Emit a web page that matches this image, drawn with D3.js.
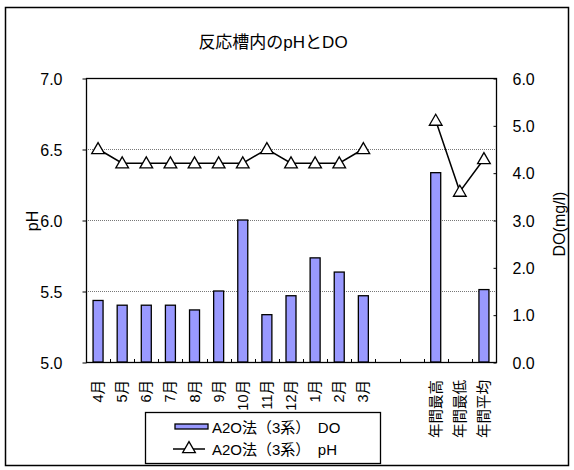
<!DOCTYPE html>
<html>
<head>
<meta charset="utf-8">
<script src="https://cdn.jsdelivr.net/npm/d3@7"></script>
<style>
  html, body { margin: 0; padding: 0; background: #fff; }
  svg { display: block; }
  text { font-family: "Liberation Sans", Arial, "Noto Sans CJK JP", sans-serif; fill: #000; }
</style>
</head>
<body>
<svg id="chart" width="574" height="470"></svg>
<script>
// Monthly and annual summary values for reactor tank (A2O, line 3)
const categories = ["4月", "5月", "6月", "7月", "8月", "9月", "10月", "11月", "12月", "1月", "2月", "3月",
                    "", "", "年間最高", "年間最低", "年間平均"];
const doValues = [1.3, 1.2, 1.2, 1.2, 1.1, 1.5, 3.0, 1.0, 1.4, 2.2, 1.9, 1.4, null, null, 4.0, 0, 1.53];
const phValues = [6.5, 6.4, 6.4, 6.4, 6.4, 6.4, 6.4, 6.5, 6.4, 6.4, 6.4, 6.5, null, null, 6.7, 6.2, 6.43];
const phTicks = [5.0, 5.5, 6.0, 6.5, 7.0];
const doTicks = [0, 1, 2, 3, 4, 5, 6];
const titleText = "反応槽内のpHとDO";
const phAxisTitle = "pH";
const doAxisTitle = "DO(mg/l)";
const legendLabels = ["A2O法（3系）　DO", "A2O法（3系）　pH"];

const svg = d3.select("#chart");
const plot = { left: 86, right: 496, top: 78, bottom: 362 };

const x = d3.scaleBand().domain(d3.range(categories.length)).range([plot.left, plot.right]).padding(0);
const yPH = d3.scaleLinear().domain([5, 7]).range([plot.bottom, plot.top]);
const yDO = d3.scaleLinear().domain([0, 6]).range([plot.bottom, plot.top]);

// outer frame
svg.append("rect").attr("x", 5.5).attr("y", 7.5).attr("width", 563).attr("height", 458)
  .attr("fill", "#fff").attr("stroke", "#000").attr("stroke-width", 1.5);

// title
svg.append("text").attr("x", 273).attr("y", 48).attr("text-anchor", "middle")
  .style("font-size", "17px").text(titleText);

// grid lines
svg.append("g").selectAll("line").data(phTicks.filter(t => t > 5 && t < 7)).join("line")
  .attr("x1", plot.left).attr("x2", plot.right)
  .attr("y1", d => Math.round(yPH(d)) + 0.5).attr("y2", d => Math.round(yPH(d)) + 0.5)
  .attr("stroke", "#777").attr("stroke-width", 1).attr("stroke-dasharray", "1,1");

// plot area frame
svg.append("rect").attr("x", plot.left + 0.5).attr("y", plot.top + 0.5)
  .attr("width", plot.right - plot.left).attr("height", plot.bottom - plot.top)
  .attr("fill", "none").attr("stroke", "#000").attr("stroke-width", 1.3);

// left pH axis
const leftAxis = d3.axisLeft(yPH).tickValues(phTicks).tickFormat(d3.format(".1f")).tickSize(4).tickPadding(20);
const gL = svg.append("g").attr("transform", `translate(${plot.left + 0.5},0.5)`).call(leftAxis);
gL.select(".domain").remove();
gL.selectAll(".tick line").attr("stroke", "#000");
gL.selectAll(".tick text").style("font-size", "16px").attr("x", -24).attr("dy", "0.35em");

// right DO axis (ticks point inward)
const rightAxis = d3.axisRight(yDO).tickValues(doTicks).tickFormat(d3.format(".1f")).tickSize(-3);
const gR = svg.append("g").attr("transform", `translate(${plot.right + 0.5},0.5)`).call(rightAxis);
gR.select(".domain").remove();
gR.selectAll(".tick line").attr("stroke", "#000");
gR.selectAll(".tick text").style("font-size", "16px").attr("x", 16).attr("dy", "0.35em");

// category boundary ticks on the bottom axis (pointing up)
svg.append("g").selectAll("line").data(d3.range(1, categories.length)).join("line")
  .attr("x1", i => Math.round(x(i)) + 0.5).attr("x2", i => Math.round(x(i)) + 0.5)
  .attr("y1", plot.bottom).attr("y2", plot.bottom - 3)
  .attr("stroke", "#000").attr("stroke-width", 1);

// category labels (rotated)
svg.append("g").selectAll("text").data(categories).join("text")
  .attr("transform", (d, i) => `translate(${x(i) + x.bandwidth() / 2 + 5},380) rotate(-90)`)
  .attr("text-anchor", "end")
  .style("font-size", "14.5px")
  .text(d => d);

// axis titles
svg.append("text").attr("transform", "translate(38,221) rotate(-90)")
  .attr("text-anchor", "middle").style("font-size", "16px").text(phAxisTitle);
svg.append("text").attr("transform", "translate(565,224) rotate(-90)")
  .attr("text-anchor", "middle").style("font-size", "16px").text(doAxisTitle);

// DO bars
const barW = 10;
svg.append("g").selectAll("rect")
  .data(doValues.map((v, i) => ({ v, i })).filter(d => d.v != null && d.v > 0)).join("rect")
  .attr("x", d => x(d.i) + x.bandwidth() / 2 - barW / 2)
  .attr("y", d => yDO(d.v))
  .attr("width", barW)
  .attr("height", d => yDO(0) - yDO(d.v))
  .attr("fill", "#9999ff").attr("stroke", "#000").attr("stroke-width", 1.3);

// pH line with gaps
const phPts = phValues.map((v, i) => ({ v, i }));
const line = d3.line().defined(d => d.v != null)
  .x(d => x(d.i) + x.bandwidth() / 2).y(d => yPH(d.v));
svg.append("path").datum(phPts).attr("d", line)
  .attr("fill", "none").attr("stroke", "#000").attr("stroke-width", 1.5);

const tri = d3.symbol().type(d3.symbolTriangle).size(70);
svg.append("g").selectAll("path").data(phPts.filter(d => d.v != null)).join("path")
  .attr("transform", d => `translate(${x(d.i) + x.bandwidth() / 2},${yPH(d.v) + 1})`)
  .attr("d", tri).attr("fill", "#fff").attr("stroke", "#000").attr("stroke-width", 1.3);

// legend
const lg = svg.append("g");
lg.append("rect").attr("x", 145.5).attr("y", 412.5).attr("width", 235).attr("height", 51)
  .attr("fill", "#fff").attr("stroke", "#000").attr("stroke-width", 1.3);
lg.append("rect").attr("x", 175).attr("y", 424).attr("width", 33).attr("height", 5)
  .attr("fill", "#9999ff").attr("stroke", "#000").attr("stroke-width", 1.3);
lg.append("text").attr("x", 212).attr("y", 433).style("font-size", "15px").text(legendLabels[0]);
lg.append("line").attr("x1", 173).attr("x2", 205).attr("y1", 449).attr("y2", 449)
  .attr("stroke", "#000").attr("stroke-width", 1.5);
lg.append("path").attr("transform", "translate(189,449)").attr("d", tri)
  .attr("fill", "#fff").attr("stroke", "#000").attr("stroke-width", 1.3);
lg.append("text").attr("x", 212).attr("y", 455).style("font-size", "15px").text(legendLabels[1]);
</script>
</body>
</html>
